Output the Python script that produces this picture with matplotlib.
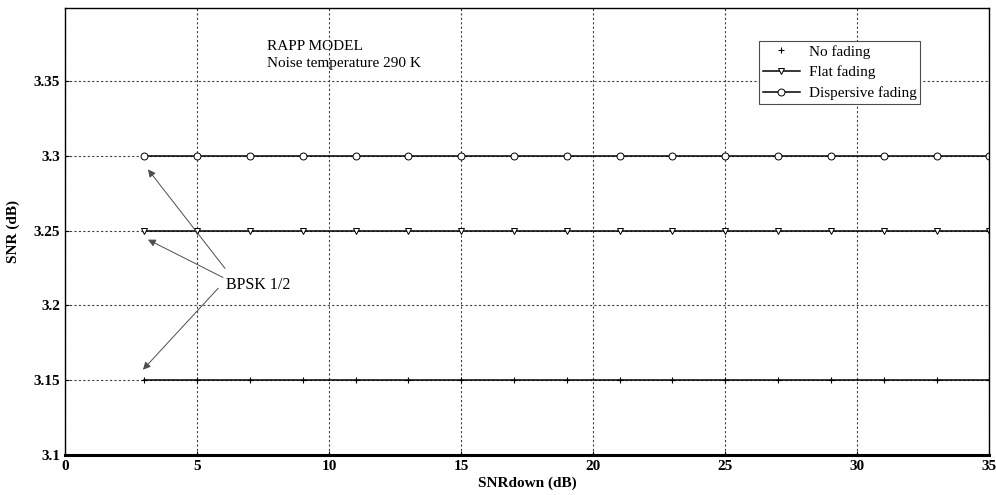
import numpy as np
import matplotlib
matplotlib.use("Agg")
import matplotlib.pyplot as plt

plt.rcParams['font.family'] = ['Liberation Serif', 'DejaVu Serif']

snr_down = [3, 5, 7, 9, 11, 13, 15, 17, 19, 21, 23, 25, 27, 29, 31, 33, 35]
no_fading = [3.15] * len(snr_down)
flat_fading = [3.25] * len(snr_down)
dispersive = [3.30] * len(snr_down)

fig = plt.figure(figsize=(9.96, 4.95), dpi=100)
ax = fig.add_axes([0.0653, 0.081, 0.928, 0.903])

ax.plot(snr_down, no_fading, '-', color='black', lw=1.1)
ax.plot(snr_down, no_fading, '+', color='black', ms=4, mew=0.8, ls='none', label='No fading')
ax.plot(snr_down, flat_fading, '-v', color='black', lw=1.1, ms=5,
        mfc='white', mew=0.7, label='Flat fading')
ax.plot(snr_down, dispersive, '-o', color='black', lw=1.1, ms=5,
        mfc='white', mew=0.7, label='Dispersive fading')

ax.set_xlim(0, 35)
ax.set_ylim(3.1, 3.399)
ax.set_xticks(np.arange(0, 36, 5))
ax.set_yticks([3.1, 3.15, 3.2, 3.25, 3.3, 3.35])
ax.set_yticklabels(['3.1', '3.15', '3.2', '3.25', '3.3', '3.35'])
ax.grid(True, color='0.25', linestyle=(0, (2, 2)), lw=0.8)
ax.set_axisbelow(True)
ax.tick_params(direction='in', length=3, labelsize=11)
for lab in ax.get_xticklabels() + ax.get_yticklabels():
    lab.set_fontweight('bold')
for side in ['top', 'left', 'right']:
    ax.spines[side].set_linewidth(1.0)
ax.spines['bottom'].set_linewidth(2.2)

ax.set_xlabel('SNRdown (dB)', fontsize=11, fontweight='bold', labelpad=3)
ax.set_ylabel('SNR (dB)', fontsize=11, fontweight='bold', labelpad=10)

ax.text(7.65, 3.373, 'RAPP MODEL', fontsize=11, va='center')
ax.text(7.65, 3.362, 'Noise temperature 290 K', fontsize=11, va='center')

ax.text(6.1, 3.2137, 'BPSK 1/2', fontsize=11.5, va='center')
arrow = dict(arrowstyle='-|>', color='0.3', lw=0.7, mutation_scale=11,
             shrinkA=0, shrinkB=0)
ax.annotate('', xy=(3.14, 3.291), xytext=(6.06, 3.2247), arrowprops=arrow)
ax.annotate('', xy=(3.14, 3.244), xytext=(5.98, 3.2187), arrowprops=arrow)
ax.annotate('', xy=(2.95, 3.157), xytext=(5.80, 3.2115), arrowprops=arrow)

leg = ax.legend(loc='upper left', bbox_to_anchor=(0.751, 0.926), fontsize=11,
                fancybox=False, framealpha=1, edgecolor='0.3',
                handlelength=2.4, handletextpad=0.6, borderpad=0.25,
                labelspacing=0.45, borderaxespad=0)
leg.get_frame().set_linewidth(0.8)

fig.savefig('out.png', dpi=100)
